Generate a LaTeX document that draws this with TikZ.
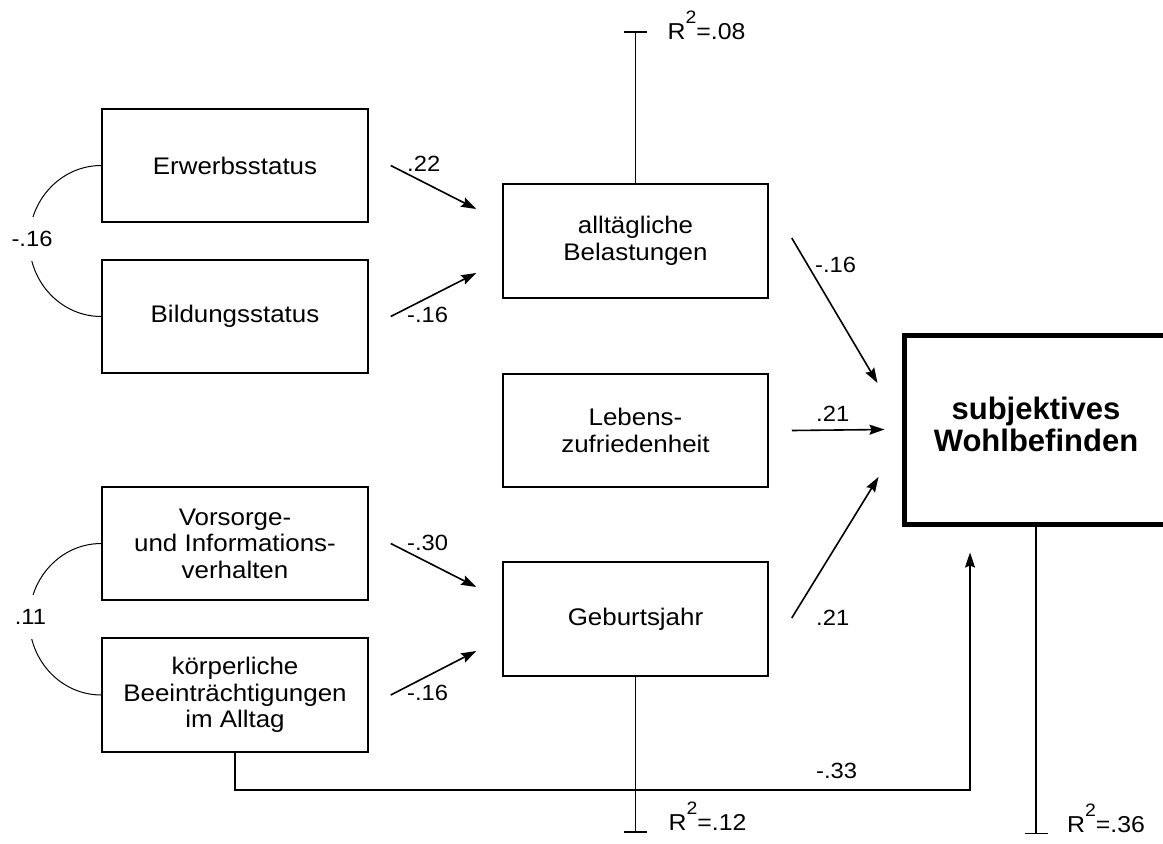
\documentclass[tikz,border=0pt]{standalone}
\usepackage{fontspec}
\setmainfont{Liberation Sans}[FakeStretch=1.08]
\newfontfamily\wbfont{Liberation Sans}
\usetikzlibrary{arrows.meta,calc}
\newcommand{\rsq}[1]{R\raisebox{16pt}{\fontsize{18}{18}\selectfont 2}=#1}
\begin{document}
\begin{tikzpicture}[x=1pt,y=-1pt,
  box/.style={draw, line width=1.5pt, minimum width=266pt, minimum height=113pt,
    align=center, inner sep=0pt, font=\fontsize{24}{26.5}\selectfont},
  arr/.style={line width=1.6pt, -{Stealth[length=15pt,width=10pt,inset=2pt]}},
  lab/.style={anchor=base west, inner sep=0pt, font=\fontsize{22}{24}\selectfont},
  rlab/.style={anchor=base west, inner sep=0pt, font=\fontsize{23}{25}\selectfont},
  clab/.style={fill=white, inner xsep=1pt, inner ysep=0pt, minimum height=44pt,
    font=\fontsize{22}{24}\selectfont},
  corr/.style={line width=1pt},
  resid/.style={line width=1.6pt}]
\path[use as bounding box] (0,0) rectangle (1163,844);
\clip (0,0) rectangle (1163,844);

% boxes
\node[box] (E) at (235,165.5) {Erwerbsstatus};
\node[box] (B) at (235,316.5) {Bildungsstatus};
\node[box] (V) at (235,543.5) {Vorsorge-\\und Informations-\\verhalten};
\node[box, minimum height=114pt] (K) at (235,695) {körperliche\\Beeinträchtigungen\\im Alltag};
\node[box, minimum width=265pt, minimum height=114pt] (A) at (635.5,241) {alltägliche\\Belastungen};
\node[box, minimum width=265pt] (L) at (635.5,430.5) {Lebens-\\zufriedenheit};
\node[box, minimum width=265pt, minimum height=114pt] (G) at (635.5,619) {Geburtsjahr};
\node[draw, line width=5pt, minimum width=264pt, minimum height=189pt, align=center,
  inner sep=0pt, text depth=10pt, font=\wbfont\bfseries\fontsize{31}{32}\selectfont] (W) at (1036,429.5)
  {subjektives\\Wohlbefinden};

% correlations
\coordinate (c1) at ($(E.west)!0.5!(B.west)+(-72,0)$);
\draw[corr] (E.west) .. controls ($(E.west)+(-39.8,0)$) and ($(c1)+(0,-41.7)$) .. (c1)
  .. controls ($(c1)+(0,41.7)$) and ($(B.west)+(-39.8,0)$) .. (B.west);
\node[clab] (r1) at (32,239) {-.16};
\coordinate (c2) at ($(V.west)!0.5!(K.west)+(-72,0)$);
\draw[corr] (V.west) .. controls ($(V.west)+(-39.8,0)$) and ($(c2)+(0,-41.8)$) .. (c2)
  .. controls ($(c2)+(0,41.8)$) and ($(K.west)+(-39.8,0)$) .. (K.west);
\node[clab] (r2) at (30.5,617) {.11};

% paths
\draw[arr] ($(E.east)+(22,0)$) -- ($(A.west)+(-26,-32)$);
\draw[arr] ($(B.east)+(22,0)$) -- ($(A.west)+(-26,32)$);
\draw[arr] ($(V.east)+(22,0)$) -- ($(G.west)+(-26,-32)$);
\draw[arr] ($(K.east)+(22,0)$) -- ($(G.west)+(-26,32)$);
\draw[arr] ($(A.east)+(23,-3)$) -- ($(W.west)+(-24,-46.5)$);
\draw[arr] ($(L.east)+(23,0)$) -- ($(W.west)+(-17,0)$);
\draw[arr] ($(G.east)+(23,-1)$) -- ($(W.west)+(-23,47.5)$);
\draw[arr] (K.south) -- ++(0,37) -| ($(W.south)+(-66,26)$);

\node[lab] (p1) at (407,171) {.22};
\node[lab] (p2) at (407,322) {-.16};
\node[lab] (p3) at (407,550) {-.30};
\node[lab] (p4) at (407,700) {-.16};
\node[lab] (p5) at (815,272) {-.16};
\node[lab] (p6) at (816,421) {.21};
\node[lab] (p7) at (816,625) {.21};
\node[lab] (p8) at (816,778) {-.33};

% residuals
\draw[resid] (A.north) -- ++(0,-151) coordinate (tA);
\draw[resid] ($(tA)+(-11.5,0)$) -- ($(tA)+(11.5,0)$);
\node[rlab] (rA) at ($(tA)+(32,7)$) {\rsq{.08}};
\draw[resid] (G.south) -- ++(0,155) coordinate (tG);
\draw[resid] ($(tG)+(-11.5,0)$) -- ($(tG)+(11.5,0)$);
\node[rlab] (rG) at ($(tG)+(33,-1)$) {\rsq{.12}};
\draw[resid] (W.south) -- ++(0,307) coordinate (tW);
\draw[resid] ($(tW)+(-11.5,0)$) -- ($(tW)+(11.5,0)$);
\node[rlab] (rW) at ($(tW)+(31,-1)$) {\rsq{.36}};
\end{tikzpicture}
\end{document}
